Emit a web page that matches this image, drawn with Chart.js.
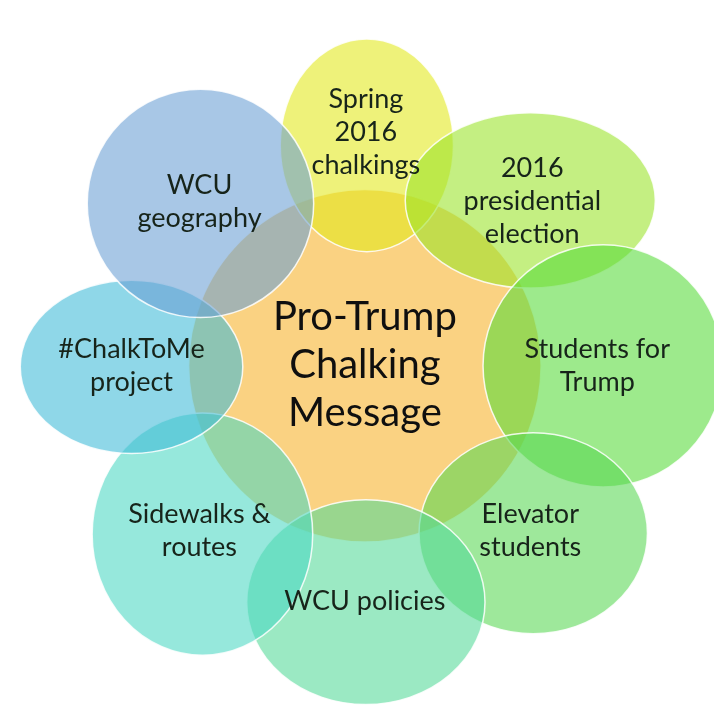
<!DOCTYPE html>
<html>
<head>
<meta charset="utf-8">
<script src="https://cdn.jsdelivr.net/npm/chart.js@4.4.1/dist/chart.umd.min.js"></script>
<style>
  html, body { margin: 0; padding: 0; background: #ffffff; }
  #wrap { width: 714px; height: 712px; }
</style>
</head>
<body>
<div id="wrap"><canvas id="c" width="714" height="712"></canvas></div>
<script>
// ---- Data (diagram units) ----
const names = ["Pro-Trump Chalking Message", "Spring 2016 chalkings", "2016 presidential election",
  "Students for Trump", "Elevator students", "WCU policies", "Sidewalks & routes",
  "#ChalkToMe project", "WCU geography"];
const centerX = [365, 367, 533, 607, 536, 366, 200, 128, 198];
const centerY = [366, 142, 198, 366, 536, 606, 537, 367, 201];
const radiusX = [179, 88, 127, 122, 116, 121, 112, 113, 115];
const radiusY = [179, 108, 89, 123, 102, 104, 123, 88, 116];
const labelLines = [
  ["Pro-Trump", "Chalking", "Message"],
  ["Spring", "2016", "chalkings"],
  ["2016", "presidential", "election"],
  ["Students for", "Trump"],
  ["Elevator", "students"],
  ["WCU policies"],
  ["Sidewalks &", "routes"],
  ["#ChalkToMe", "project"],
  ["WCU", "geography"]
];
const labelX = [365, 366, 535, 601, 533, 365, 197, 128, 197];
const labelY = [365, 129, 199, 366, 534, 605, 534, 366, 199];

// ---- Styles ----
const fillColors = [
  "rgb(250,210,130)",
  "rgba(226,233,26,0.58)",
  "rgba(153,227,40,0.58)",
  "rgba(86,219,57,0.58)",
  "rgba(88,215,83,0.58)",
  "rgba(83,217,152,0.58)",
  "rgba(74,215,195,0.58)",
  "rgba(62,186,215,0.58)",
  "rgba(105,158,212,0.58)"
];

// ---- Custom ellipse element & controller built on Chart.js bubble ----
const { BubbleController, PointElement } = Chart;

class EllipseElement extends PointElement {
  draw(ctx) {
    const o = this.options;
    ctx.save();
    ctx.beginPath();
    ctx.ellipse(this.x, this.y, this.rx || 0, this.ry || 0, 0, 0, Math.PI * 2);
    ctx.fillStyle = o.backgroundColor;
    ctx.fill();
    if (o.borderWidth) {
      ctx.lineWidth = o.borderWidth;
      ctx.strokeStyle = o.borderColor;
      ctx.stroke();
    }
    ctx.restore();
  }
}
EllipseElement.id = 'ellipseElement';
EllipseElement.defaults = Object.assign({}, PointElement.defaults);

class EllipseController extends BubbleController {
  updateElements(points, start, count, mode) {
    super.updateElements(points, start, count, mode);
    const meta = this._cachedMeta;
    const xs = meta.xScale, ys = meta.yScale;
    const ds = this.getDataset();
    for (let i = start; i < start + count; i++) {
      const d = ds.data[i];
      points[i].rx = Math.abs(xs.getPixelForValue(d.x + d.rx) - xs.getPixelForValue(d.x));
      points[i].ry = Math.abs(ys.getPixelForValue(d.y + d.ry) - ys.getPixelForValue(d.y));
    }
  }
}
EllipseController.id = 'ellipse';
EllipseController.defaults = Object.assign({}, BubbleController.defaults, { dataElementType: 'ellipseElement' });
EllipseController.overrides = BubbleController.overrides;
Chart.register(EllipseController, EllipseElement);

// ---- Labels plugin ----
const labelPlugin = {
  id: 'vennLabels',
  afterDatasetsDraw(chart) {
    const ctx = chart.ctx;
    const xs = chart.scales.x, ys = chart.scales.y;
    ctx.save();
    ctx.textAlign = 'center';
    ctx.textBaseline = 'middle';
    labelLines.forEach((lines, i) => {
      const big = i === 0;
      const size = big ? 40 : 27;
      const lh = big ? 48 : 33;
      ctx.font = size + 'px Lato, "Open Sans", sans-serif';
      ctx.fillStyle = big ? '#0f0f0f' : '#17241a';
      const px = xs.getPixelForValue(labelX[i]);
      const py = ys.getPixelForValue(labelY[i]);
      const top = py - (lines.length - 1) * lh / 2;
      lines.forEach((t, k) => ctx.fillText(t, px, top + k * lh));
    });
    ctx.restore();
  }
};

const points = centerX.map((x, i) => ({ x: x, y: centerY[i], rx: radiusX[i], ry: radiusY[i] }));

new Chart(document.getElementById('c'), {
  type: 'ellipse',
  data: {
    labels: names,
    datasets: [{
      data: points,
      backgroundColor: fillColors,
      borderColor: 'rgba(255,255,255,0.85)',
      borderWidth: 1.5,
      clip: false
    }]
  },
  options: {
    responsive: false,
    devicePixelRatio: 1,
    animation: false,
    events: [],
    layout: { padding: 0 },
    plugins: { legend: { display: false }, tooltip: { enabled: false } },
    scales: {
      x: { type: 'linear', min: 0, max: 714, display: false },
      y: { type: 'linear', min: 0, max: 712, reverse: true, display: false }
    }
  },
  plugins: [labelPlugin]
});
</script>
</body>
</html>
